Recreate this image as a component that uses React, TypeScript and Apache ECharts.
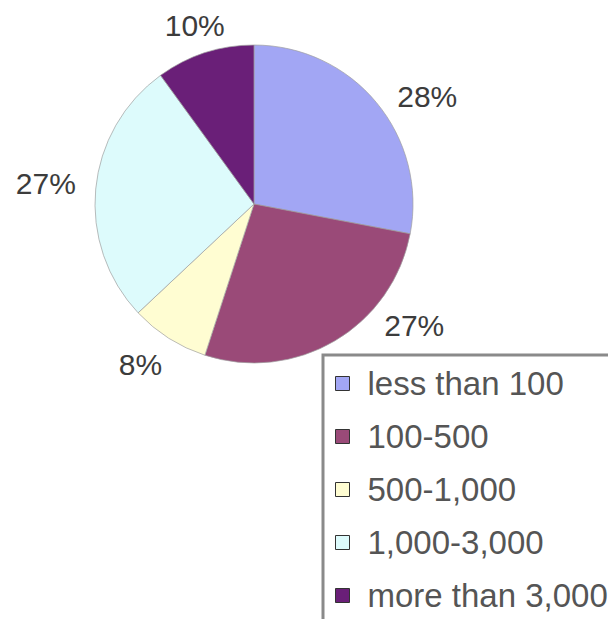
import React, { useEffect, useRef } from "react";
import * as echarts from "echarts";

const categories = ["less than 100", "100-500", "500-1,000", "1,000-3,000", "more than 3,000"];
const shares = [28, 27, 8, 27, 10];
const sliceColors = ["#A2A6F4", "#9A4A78", "#FFFDD2", "#DDFBFC", "#6A1F78"];

export default function App() {
  const ref = useRef<HTMLDivElement>(null);
  useEffect(() => {
    if (!ref.current) return;
    const chart = echarts.init(ref.current, null, { renderer: "svg" });
    const nudge: Record<number, [number, number]> = {
      0: [18, 17],
      1: [56, -46],
      2: [-4, -4],
      3: [-9, -2],
      4: [6, 7],
    };
    chart.setOption({
      animation: false,
      backgroundColor: "#ffffff",
      color: sliceColors,
      legend: {
        orient: "vertical",
        left: 323,
        top: 355,
        height: 340,
        padding: [12, 60, 40, 12],
        itemGap: 20,
        itemWidth: 14,
        itemHeight: 14,
        icon: "rect",
        borderColor: "#8a8a8a",
        borderWidth: 3,
        itemStyle: { borderColor: "#333", borderWidth: 1 },
        textStyle: {
          fontFamily: "Liberation Sans, Arial, sans-serif",
          fontSize: 33,
          lineHeight: 33,
          color: "#555",
          padding: [0, 0, 0, 13],
        },
        data: categories,
      },
      series: [
        {
          type: "pie",
          center: [254, 204],
          radius: 159,
          startAngle: 90,
          clockwise: true,
          avoidLabelOverlap: false,
          itemStyle: { borderColor: "rgba(160,160,160,0.7)", borderWidth: 1 },
          label: {
            show: true,
            position: "outside",
            formatter: "{c}%",
            fontFamily: "Liberation Sans, Arial, sans-serif",
            fontSize: 30,
            color: "#3c3c3c",
          },
          labelLine: { show: false, length: 36, length2: 0 },
          labelLayout: (p: any) => {
            const n = nudge[p.dataIndex] || [0, 0];
            return { align: "center", verticalAlign: "middle", dx: n[0], dy: n[1] };
          },
          emphasis: { disabled: true },
          data: categories.map((name, i) => ({ name, value: shares[i] })),
        },
      ],
    });
    return () => chart.dispose();
  }, []);
  return (
    <div
      ref={ref}
      style={{ position: "fixed", left: 0, top: 0, width: 608, height: 619, background: "#fff" }}
    />
  );
}
